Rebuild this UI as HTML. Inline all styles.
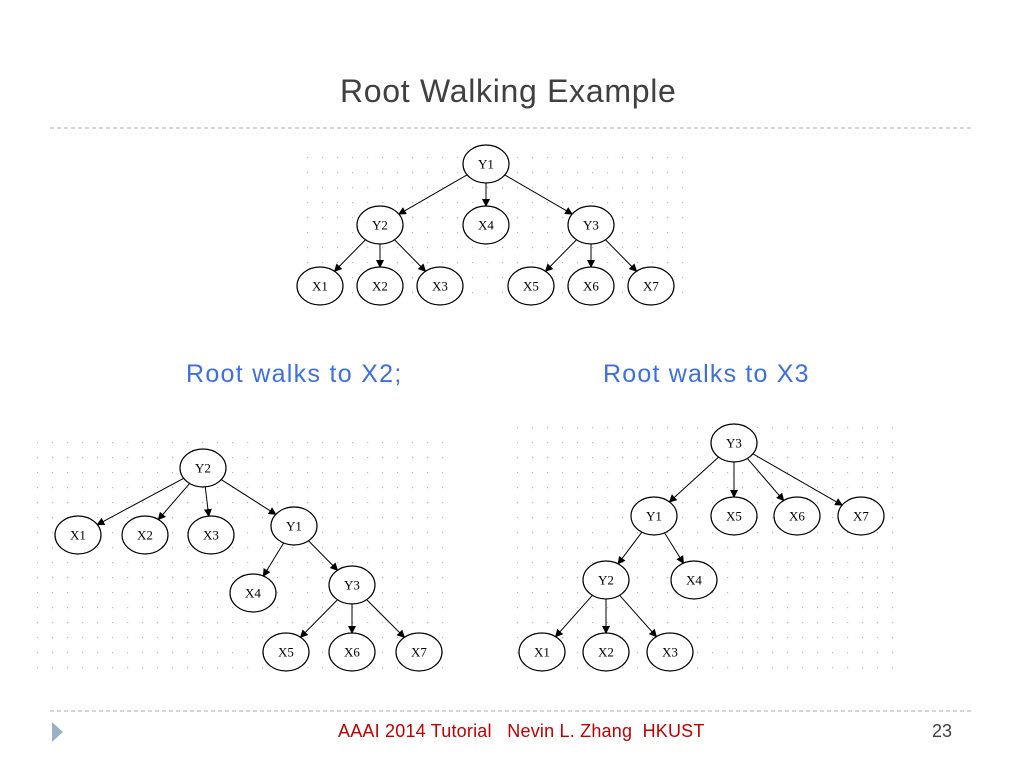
<!DOCTYPE html>
<html><head><meta charset="utf-8"><style>
body{margin:0;width:1024px;height:768px;background:#fff;position:relative;overflow:hidden;font-family:"Liberation Sans",sans-serif}
.t{position:absolute;white-space:nowrap}
</style></head><body>
<div class="t" style="left:340px;top:73px;font-size:32px;letter-spacing:0.7px;color:#404040">Root Walking Example</div>
<div class="t" style="left:186px;top:360px;font-size:25px;letter-spacing:1.3px;color:#3d6fe0">Root walks to X2;</div>
<div class="t" style="left:603px;top:360px;font-size:25px;letter-spacing:1.2px;color:#3d6fe0">Root walks to X3</div>
<div class="t" style="left:338px;top:721px;font-size:18px;color:#c00000;letter-spacing:0.2px">AAAI 2014 Tutorial &nbsp; Nevin L. Zhang &nbsp;HKUST</div>
<div class="t" style="left:932px;top:721px;font-size:18px;color:#404040">23</div>
<svg id="s" width="1024" height="768" style="position:absolute;left:0;top:0">
<defs>
<pattern id="g" width="15" height="15" patternUnits="userSpaceOnUse"><rect x="7" y="7" width="1.2" height="1.2" fill="#bbb"/></pattern>
<marker id="a" markerWidth="8" markerHeight="8" refX="7" refY="4" orient="auto" markerUnits="userSpaceOnUse"><path d="M0,0L8,4L0,8z" fill="#000"/></marker>
</defs>
<line x1="50" y1="128" x2="972" y2="128" stroke="#aab" stroke-dasharray="4,3"/>
<line x1="50" y1="711" x2="972" y2="711" stroke="#aab" stroke-dasharray="4,3"/>
<path d="M52,722L63,732L52,742z" fill="#9ab0c8"/>
<rect x="300" y="148" width="385" height="158" fill="url(#g)"/>
<rect x="30" y="440" width="425" height="242" fill="url(#g)"/>
<rect x="508" y="420" width="390" height="262" fill="url(#g)"/>
<g id="gr"></g>
</svg>
<script>
var N={},E=[];
function tree(p,nodes,edges){for(var k in nodes)N[p+k]=nodes[k];edges.forEach(function(e){E.push([p+e[0],p+e[1]])});}
tree('a',{Y1:[486,164],Y2:[380,225],X4:[486,225],Y3:[591,225],X1:[320,286],X2:[380,286],X3:[440,286],X5:[531,286],X6:[591,286],X7:[651,286]},
[['Y1','Y2'],['Y1','X4'],['Y1','Y3'],['Y2','X1'],['Y2','X2'],['Y2','X3'],['Y3','X5'],['Y3','X6'],['Y3','X7']]);
tree('b',{Y2:[203,468],X1:[78,535],X2:[145,535],X3:[211,535],Y1:[294,526],X4:[253,593],Y3:[352,585],X5:[286,652],X6:[352,652],X7:[419,652]},
[['Y2','X1'],['Y2','X2'],['Y2','X3'],['Y2','Y1'],['Y1','X4'],['Y1','Y3'],['Y3','X5'],['Y3','X6'],['Y3','X7']]);
tree('c',{Y3:[734,443],Y1:[654,516],X5:[734,516],X6:[797,516],X7:[861,516],Y2:[606,580],X4:[694,580],X1:[542,652],X2:[606,652],X3:[670,652]},
[['Y3','Y1'],['Y3','X5'],['Y3','X6'],['Y3','X7'],['Y1','Y2'],['Y1','X4'],['Y2','X1'],['Y2','X2'],['Y2','X3']]);
var rx=23,ry=19,h='';
function bd(c,dx,dy){var t=1/Math.sqrt(dx*dx/(rx*rx)+dy*dy/(ry*ry));return [c[0]+dx*t,c[1]+dy*t];}
E.forEach(function(e){var a=N[e[0]],b=N[e[1]],dx=b[0]-a[0],dy=b[1]-a[1];var p=bd(a,dx,dy),q=bd(b,-dx,-dy);
h+='<line x1="'+p[0]+'" y1="'+p[1]+'" x2="'+q[0]+'" y2="'+q[1]+'" stroke="#000" stroke-width="1" marker-end="url(#a)"/>';});
for(var k in N){var c=N[k];h+='<ellipse cx="'+c[0]+'" cy="'+c[1]+'" rx="'+rx+'" ry="'+ry+'" fill="#fff" stroke="#000" stroke-width="1.2"/><text x="'+c[0]+'" y="'+(c[1]+4.5)+'" font-family="Liberation Serif,serif" font-size="13" text-anchor="middle">'+k.slice(1)+'</text>';}
document.getElementById('gr').innerHTML=h;
</script>
</body></html>
